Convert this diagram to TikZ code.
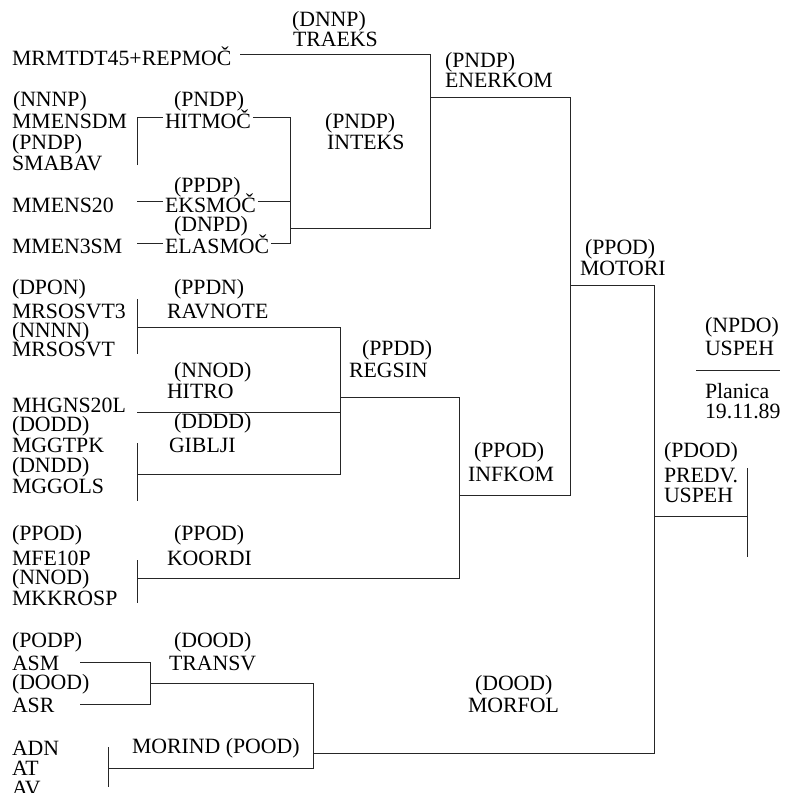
\documentclass[tikz,border=0pt]{standalone}
\usepackage{fontspec}
\setmainfont{Liberation Serif}
\usepackage{tikz}

\tikzset{
  lab/.style = {anchor=base west, inner sep=0pt, outer xsep=1pt,
                font=\fontsize{10.9}{12}\selectfont},
  veza/.style = {line width=.5pt, draw=black!85},
}

\begin{document}
\begin{tikzpicture}[x=.5pt, y=-.5pt]
  \useasboundingbox (0,0) rectangle (786,793);

  % besedila: ime/x/y/besedilo
  \foreach \ime/\x/\y/\besedilo in {
      k-traeks/290/26/(DNNP), traeks/291/46/TRAEKS,
      mrm/10/65/MRMTDT45+REPMOČ,
      k-enerkom/443/67/(PNDP), enerkom/443/87/ENERKOM,
      k-mmensdm/11/106/(NNNP), mmensdm/10/128/MMENSDM,
      k-hitmoc/172/106/(PNDP), hitmoc/163/128/HITMOČ,
      k-inteks/323/128/(PNDP), inteks/325/149/INTEKS,
      k-smabav/10/149/(PNDP), smabav/10/170/SMABAV,
      k-eksmoc/172/192/(PPDP), mmens20/10/212/MMENS20, eksmoc/163/212/EKSMOČ,
      k-elasmoc/172/231/(DNPD), mmen3sm/10/253/MMEN3SM, elasmoc/163/253/ELASMOČ,
      k-mrsosvt3/10/294/(DPON), mrsosvt3/10/318/MRSOSVT3,
      k-mrsosvt/10/337/(NNNN), mrsosvt/10/356/MRSOSVT,
      k-ravnote/172/294/(PPDN), ravnote/165/318/RAVNOTE,
      k-hitro/172/377/(NNOD), hitro/165/398/HITRO,
      mhgns/10/412/MHGNS20L,
      k-regsin/360/355/(PPDD), regsin/347/377/REGSIN,
      k-mggtpk/10/431/(DODD), mggtpk/10/452/MGGTPK,
      k-mggols/10/472/(DNDD), mggols/10/493/MGGOLS,
      k-giblji/172/428/(DDDD), giblji/167/452/GIBLJI,
      k-mfe/10/540/(PPOD), mfe/10/565/MFE10P,
      k-mkk/10/584/(NNOD), mkk/10/605/MKKROSP,
      k-koordi/172/540/(PPOD), koordi/165/565/KOORDI,
      k-asm/10/647/(PODP), asm/10/670/ASM,
      k-asr/10/689/(DOOD), asr/10/712/ASR,
      k-transv/172/647/(DOOD), transv/167/670/TRANSV,
      adn/10/755/ADN, atv/10/775/AT, avv/10/795/AV,
      morind/130/753/MORIND (POOD),
      k-morfol/473/690/(DOOD), morfol/466/712/MORFOL,
      k-motori/583/254/(PPOD), motori/578/275/MOTORI,
      k-uspeh/703/332/(NPDO), uspeh/703/355/USPEH,
      kraj/703/398/Planica, datum/703/418/19.11.89,
      k-predv/662/457/(PDOD), predv/662/482/PREDV., predv2/662/502/USPEH,
      k-infkom/472/457/(PPOD), infkom/466/481/INFKOM}
    \node[lab] (\ime) at (\x,\y) {\besedilo};

  % spoji
  \coordinate (trk)  at (240,54);
  \coordinate (hitA) at (137,117);  \coordinate (hitB) at (137,165);
  \coordinate (eksA) at (137,201);  \coordinate (elaA) at (137,243);
  \coordinate (intA) at (290,117);  \coordinate (intO) at (290,228);
  \coordinate (intB) at (290,243);
  \coordinate (eneA) at (430,54);   \coordinate (eneO) at (430,97);
  \coordinate (eneB) at (430,228);
  \coordinate (motA) at (570,97);   \coordinate (motO) at (570,285);
  \coordinate (motB) at (570,495);
  \coordinate (preA) at (654,285);  \coordinate (preO) at (654,516);
  \coordinate (preB) at (654,753);
  \coordinate (uspA) at (747,468);  \coordinate (uspO) at (747,516);
  \coordinate (uspB) at (747,557);
  \coordinate (uspL) at (696,370);  \coordinate (uspR) at (780,370);
  \coordinate (ravA) at (137,299);  \coordinate (ravO) at (137,327);
  \coordinate (ravB) at (137,354);
  \coordinate (regA) at (340,327);  \coordinate (regO) at (340,397);
  \coordinate (regB) at (340,474);
  \coordinate (hgn)  at (137,412);
  \coordinate (gibA) at (137,443);  \coordinate (gibO) at (137,474);
  \coordinate (gibB) at (137,501);
  \coordinate (infA) at (459,397);  \coordinate (infO) at (459,495);
  \coordinate (infB) at (459,578);
  \coordinate (kooA) at (137,560);  \coordinate (kooO) at (137,578);
  \coordinate (kooB) at (137,603);
  \coordinate (asmL) at (80,662);   \coordinate (asrL) at (80,704);
  \coordinate (traA) at (150,662);  \coordinate (traO) at (150,683);
  \coordinate (traB) at (150,704);
  \coordinate (morA) at (313,683);  \coordinate (morO) at (313,753);
  \coordinate (morB) at (313,768);
  \coordinate (indA) at (108,747);  \coordinate (indO) at (108,768);
  \coordinate (indB) at (108,787);

  % motorika
  \draw[veza] (trk) -- (eneA) -- (eneB) -- (intO);
  \draw[veza] (eneO) -- (motA) -- (motB) -- (infO);
  \draw[veza] (hitB) -- (hitA) -- (hitmoc.west |- hitA);
  \draw[veza] (hitmoc.east |- intA) -- (intA) -- (intB) -- (elasmoc.east |- intB);
  \draw[veza] (eksA) -- (eksmoc.west |- eksA);
  \draw[veza] (eksmoc.east |- eksA) -- (intA |- eksA);
  \draw[veza] (elaA) -- (elasmoc.west |- elaA);

  % informacijske komponente
  \draw[veza] (ravA) -- (ravB);
  \draw[veza] (ravO) -- (regA) -- (regB) -- (gibO);
  \draw[veza] (gibA) -- (gibB);
  \draw[veza] (hgn) -- (regA |- hgn);
  \draw[veza] (regO) -- (infA) -- (infB) -- (kooO);
  \draw[veza] (kooA) -- (kooB);

  % uspeh
  \draw[veza] (motO) -- (preA) -- (preB) -- (morO);
  \draw[veza] (preO) -- (uspO);
  \draw[veza] (uspA) -- (uspB);
  \draw[veza] (uspL) -- (uspR);

  % morfologija
  \draw[veza] (asmL) -- (traA) -- (traB) -- (asrL);
  \draw[veza] (traO) -- (morA) -- (morB) -- (indO);
  \draw[veza] (indA) -- (indB);
\end{tikzpicture}
\end{document}
